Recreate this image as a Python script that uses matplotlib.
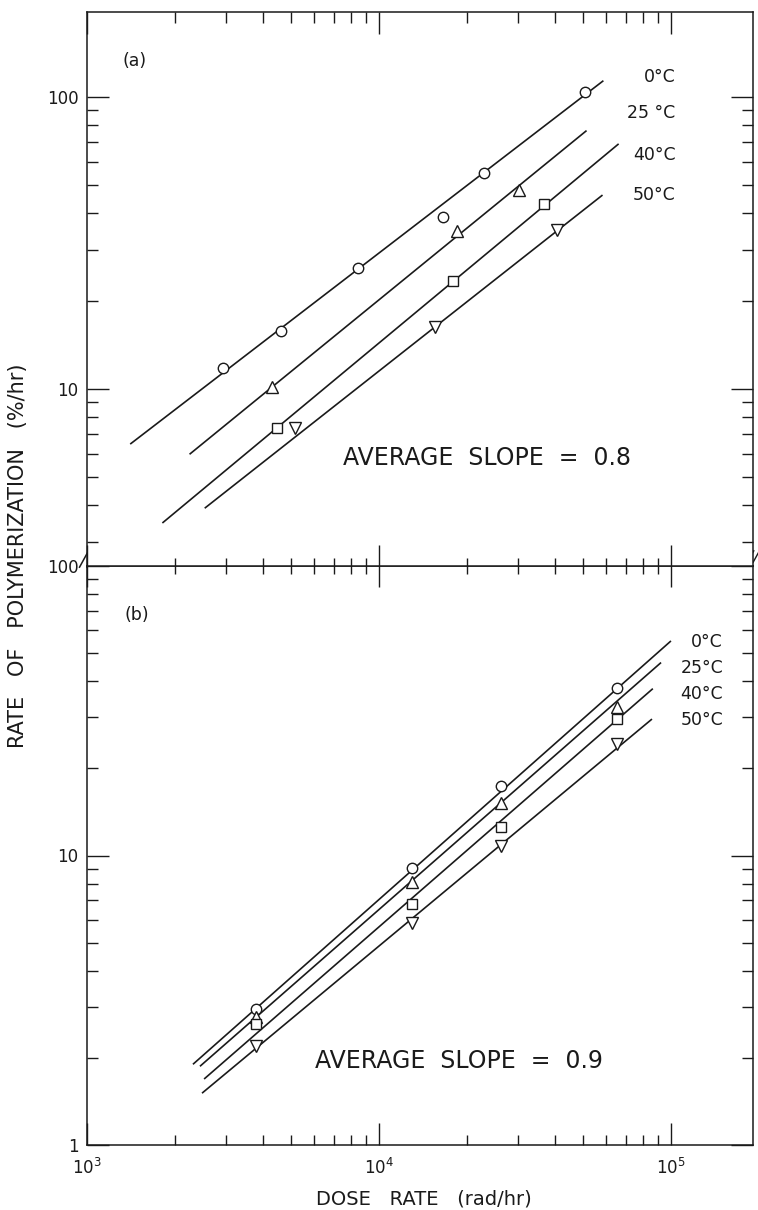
import numpy as np
import matplotlib
matplotlib.use("Agg")
import matplotlib.pyplot as plt
from matplotlib.path import Path
from matplotlib.ticker import FuncFormatter, NullFormatter

plt.rcParams['font.family'] = ['DejaVu Sans']
plt.rcParams['mathtext.fontset'] = 'dejavusans'

INK = '#1a1a1a'

# ---- data ---------------------------------------------------------------
temps = ['0°C', '25 °C', '40°C', '50°C']
temps_b = ['0°C', '25°C', '40°C', '50°C']
markers = ['o', '^', 's', 'v']

# panel (a): measured points, dose rate (rad/hr) vs rate (%/hr)
dose_a_0 = [2920, 4610, 8490, 16550, 22900, 50900]
rate_a_0 = [11.8, 15.8, 25.9, 38.8, 54.9, 104]
dose_a_25 = [4300, 18500, 30200]
rate_a_25 = [10.2, 34.8, 48.1]
dose_a_40 = [4480, 17900, 36800]
rate_a_40 = [7.34, 23.4, 43.0]
dose_a_50 = [5160, 15600, 40800]
rate_a_50 = [7.34, 16.3, 35.1]

# panel (a): fitted lines (end points)
fit_a_dose = [[1406, 58700], [2245, 51400], [1812, 66200], [2530, 58300]]
fit_a_rate = [[6.48, 113.5], [5.98, 76.6], [3.48, 69.0], [3.91, 46.1]]

# panel (b): measured points
dose_b = [3800, 12970, 26200, 65500]
rate_b_0 = [2.94, 9.02, 17.4, 37.9]
rate_b_25 = [2.76, 8.13, 15.2, 32.7]
rate_b_40 = [2.61, 6.78, 12.5, 29.6]
rate_b_50 = [2.19, 5.83, 10.8, 24.2]

# panel (b): fitted lines (end points)
fit_b_dose = [[2306, 100000], [2437, 92500], [2518, 86700], [2477, 86100]]
fit_b_rate = [[1.90, 55.1], [1.87, 46.4], [1.69, 37.7], [1.51, 29.6]]

slope_a = 0.8
slope_b = 0.9

pts_a = [(dose_a_0, rate_a_0), (dose_a_25, rate_a_25),
         (dose_a_40, rate_a_40), (dose_a_50, rate_a_50)]
pts_b = [(dose_b, rate_b_0), (dose_b, rate_b_25),
         (dose_b, rate_b_40), (dose_b, rate_b_50)]

XLIM = (1e3, 1.91e5)
YLIM_A = (2.48, 195)
YLIM_B = (1.0, 100)

# ---- figure -------------------------------------------------------------
W, H = 758, 1210
fig = plt.figure(figsize=(W / 100, H / 100), dpi=100)
left, width = 87 / W, 666 / W
ax_b = fig.add_axes([left, 65 / H, width, 579 / H])
ax_a = fig.add_axes([left, 644 / H, width, 554 / H], sharex=ax_b)

for ax in (ax_a, ax_b):
    ax.set_xscale('log')
    ax.set_yscale('log')
    for sp in ax.spines.values():
        sp.set_color(INK)
        sp.set_linewidth(1.1)

ax_b.set_xlim(*XLIM)
ax_a.set_ylim(*YLIM_A)
ax_b.set_ylim(*YLIM_B)

line_kw = dict(color=INK, lw=1.2, solid_capstyle='butt', zorder=2)
mk_kw = dict(ls='none', mfc='white', mec=INK, mew=1.0, zorder=3)
msize = {'o': 7.5, '^': 9, 's': 7, 'v': 9}

for (dx, ry), fd, fr, m in zip(pts_a, fit_a_dose, fit_a_rate, markers):
    ax_a.plot(fd, fr, **line_kw)
    ax_a.plot(dx, ry, marker=m, ms=msize[m], **mk_kw)

for (dx, ry), fd, fr, m in zip(pts_b, fit_b_dose, fit_b_rate, markers):
    ax_b.plot(fd, fr, **line_kw)
    ax_b.plot(dx, ry, marker=m, ms=msize[m], **mk_kw)

# ---- ticks --------------------------------------------------------------
yfmt = FuncFormatter(lambda v, p: f"{v:g}")
xfmt = FuncFormatter(lambda v, p: rf"$10^{{{int(round(np.log10(v)))}}}$")

for ax in (ax_a, ax_b):
    ax.yaxis.set_major_formatter(yfmt)
    ax.yaxis.set_minor_formatter(NullFormatter())
    ax.tick_params(axis='y', which='both', left=True, right=True,
                   direction='in', colors=INK, labelsize=12, pad=6)
    ax.tick_params(axis='y', which='major', length=16, width=1.0)
    ax.tick_params(axis='y', which='minor', length=8, width=1.0)

# middle line: ticks cross the line
ax_a.tick_params(axis='x', which='both', bottom=True, top=False,
                 labelbottom=False, direction='inout', colors=INK)
ax_a.tick_params(axis='x', which='major', length=30, width=1.0)
ax_a.tick_params(axis='x', which='minor', length=12, width=1.0)

# top of panel (a): inward ticks
ax_top = ax_a.twiny()
ax_top.set_xscale('log')
ax_top.set_xlim(*XLIM)
ax_top.xaxis.set_major_formatter(NullFormatter())
ax_top.xaxis.set_minor_formatter(NullFormatter())
ax_top.tick_params(axis='x', which='both', top=True, bottom=False,
                   labeltop=False, direction='in', colors=INK)
ax_top.tick_params(axis='x', which='major', length=16, width=1.0)
ax_top.tick_params(axis='x', which='minor', length=8, width=1.0)
for sp in ax_top.spines.values():
    sp.set_visible(False)

ax_b.xaxis.set_major_formatter(xfmt)
ax_b.xaxis.set_minor_formatter(NullFormatter())
ax_b.tick_params(axis='x', which='both', bottom=True, top=False,
                 direction='in', colors=INK, labelsize=12, pad=9)
ax_b.tick_params(axis='x', which='major', length=16, width=1.0)
ax_b.tick_params(axis='x', which='minor', length=7.5, width=1.0)

# ---- axis break marks ---------------------------------------------------
brk = Path([(-1.0, -1.0), (0.1, 1.0), (-0.1, -1.0), (1.0, 1.0)],
           [Path.MOVETO, Path.LINETO, Path.MOVETO, Path.LINETO])
ax_b.plot([0.0], [1.012], transform=ax_b.transAxes, marker=brk, ms=12,
          mew=1.1, mec=INK, ls='none', clip_on=False, zorder=5)
ax_b.plot([1.0], [1.018], transform=ax_b.transAxes, marker=brk, ms=9,
          mew=1.0, mec=INK, ls='none', clip_on=False, zorder=5)

# ---- text ---------------------------------------------------------------
txt = dict(color=INK)
ax_a.text(0.053, 0.912, '(a)', transform=ax_a.transAxes, fontsize=12.5,
          va='center', ha='left', **txt)
ax_b.text(0.057, 0.915, '(b)', transform=ax_b.transAxes, fontsize=12.5,
          va='center', ha='left', **txt)

for lab, yf in zip(temps, [0.883, 0.818, 0.742, 0.670]):
    ax_a.text(0.884, yf, lab, transform=ax_a.transAxes, fontsize=12.5,
              ha='right', va='center', **txt)
for lab, yf in zip(temps_b, [0.869, 0.824, 0.779, 0.734]):
    ax_b.text(0.955, yf, lab, transform=ax_b.transAxes, fontsize=12.5,
              ha='right', va='center', **txt)

ax_a.text(0.384, 0.195, f'AVERAGE  SLOPE  =  {slope_a}',
          transform=ax_a.transAxes, fontsize=17, ha='left', va='center',
          **txt)
ax_b.text(0.342, 0.145, f'AVERAGE  SLOPE  =  {slope_b}',
          transform=ax_b.transAxes, fontsize=17, ha='left', va='center',
          **txt)

fig.text(18 / W, 1 - 556 / H, 'RATE   OF   POLYMERIZATION   (%/hr)',
         rotation=90, ha='center', va='center', fontsize=15, **txt)
fig.text(424 / W, 1 - 1199 / H, 'DOSE   RATE   (rad/hr)', ha='center',
         va='center', fontsize=14, **txt)

fig.savefig('out.png', dpi=100, facecolor='white')
